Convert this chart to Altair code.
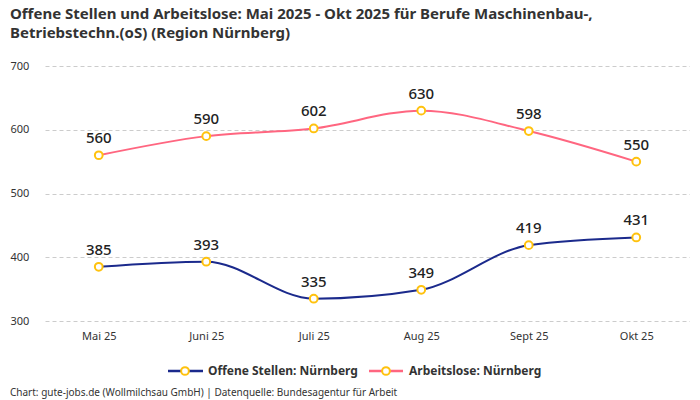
import altair as alt
import pandas as pd

months = ["Mai 25", "Juni 25", "Juli 25", "Aug 25", "Sept 25", "Okt 25"]
offene = [385, 393, 335, 349, 419, 431]
arbeitslose = [560, 590, 602, 630, 598, 550]
series_names = ["Offene Stellen: Nürnberg", "Arbeitslose: Nürnberg"]
series_colors = ["#1b2a8c", "#ff6680"]
y_ticks = [300, 400, 500, 600, 700]

rows = []
for m, v in zip(months, offene):
    rows.append({"Monat": m, "Wert": v, "Serie": series_names[0]})
for m, v in zip(months, arbeitslose):
    rows.append({"Monat": m, "Wert": v, "Serie": series_names[1]})
df = pd.DataFrame(rows)

FONT = "Noto Sans"

x_enc = alt.X("Monat:N", sort=months,
              scale=alt.Scale(type="point", padding=0.5),
              axis=alt.Axis(title=None, labelAngle=0, ticks=False, domain=False,
                            labelPadding=9, labelFontSize=11, labelColor="#333",
                            labelFont=FONT, grid=False))
y_enc = alt.Y("Wert:Q", scale=alt.Scale(domain=[300, 700], nice=False, zero=False),
              axis=alt.Axis(title=None, values=y_ticks, ticks=False, domain=False,
                            labelAlign="left", labelPadding=35, labelFontSize=11,
                            labelColor="#333", labelFont=FONT, grid=True,
                            gridColor="#cccccc", gridDash=[4, 3], gridWidth=1))
color_enc = alt.Color("Serie:N", scale=alt.Scale(domain=series_names, range=series_colors),
                      legend=None)

base = alt.Chart(df)

lines = base.mark_line(interpolate="monotone", strokeWidth=2).encode(
    x=x_enc, y=y_enc, color=color_enc, detail="Serie:N")

points = base.mark_point(shape="circle", filled=True, fill="white", stroke="#ffc20e",
                         strokeWidth=2, size=60, opacity=1).encode(
    x=alt.X("Monat:N", sort=months), y="Wert:Q")

labels = base.mark_text(dy=-17, fontSize=15, fontWeight=500, color="#222",
                        font=FONT).encode(
    x=alt.X("Monat:N", sort=months), y="Wert:Q", text="Wert:Q")

# custom legend (line + circle symbol)
leg_df = pd.DataFrame({
    "Serie": series_names,
    "x1": [123, 324], "x2": [158, 358], "xc": [140, 341], "xt": [163, 364],
})
leg = alt.Chart(leg_df)
leg_lines = leg.mark_rule(strokeWidth=2.5).encode(
    x=alt.X("x1:Q", scale=None), x2="x2:Q", y=alt.value(305),
    color=alt.Color("Serie:N", scale=alt.Scale(domain=series_names, range=series_colors),
                    legend=None))
leg_pts = leg.mark_point(shape="circle", filled=True, fill="white", stroke="#ffc20e",
                         strokeWidth=2, size=60, opacity=1).encode(
    x=alt.X("xc:Q", scale=None), y=alt.value(305))
leg_text = leg.mark_text(align="left", baseline="middle", fontSize=12, fontWeight="bold",
                         color="#333", font=FONT).encode(
    x=alt.X("xt:Q", scale=None), y=alt.value(305), text="Serie:N")

footer_df = pd.DataFrame({"t": ["Chart: gute-jobs.de (Wollmilchsau GmbH) | Datenquelle: Bundesagentur für Arbeit"]})
footer = alt.Chart(footer_df).mark_text(align="left", baseline="middle", fontSize=10,
                                        color="#333", font=FONT).encode(
    x=alt.value(-35), y=alt.value(327), text="t:N")

chart = alt.layer(lines, points, labels, leg_lines, leg_pts, leg_text, footer).properties(
    width=645, height=255,
    autosize=alt.AutoSizeParams(type="none"),
    padding={"left": 37, "top": 58, "right": 0, "bottom": 80},
    title=alt.TitleParams(
        text=["Offene Stellen und Arbeitslose: Mai 2025 - Okt 2025 für Berufe Maschinenbau-,",
              "Betriebstechn.(oS) (Region Nürnberg)"],
        anchor="start", frame="group", dx=-35, offset=19,
        fontSize=15, fontWeight="bold", color="#333", font=FONT, lineHeight=19),
).configure_view(stroke=None)

chart.save("out.html", embed_options={"renderer": "svg", "actions": False})
